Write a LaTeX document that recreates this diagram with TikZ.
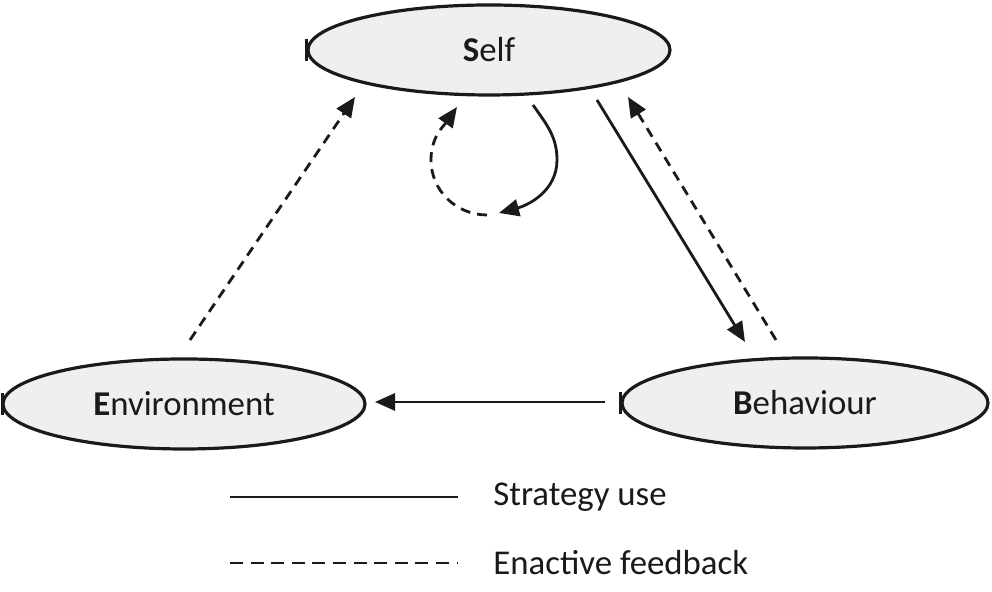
\documentclass[tikz,border=0pt]{standalone}
\usepackage{fontspec}
\setmainfont{Carlito}
\usetikzlibrary{arrows.meta,shapes.geometric}
\definecolor{ellfill}{HTML}{EFEFEF}
\definecolor{ink}{HTML}{1A1A1A}
\tikzset{
  ell/.style={ellipse, draw=ink, fill=ellfill, line width=1.6pt, inner sep=0pt,
              font=\fontsize{17.4}{20}\selectfont, text=ink},
  tick/.style={draw=ink, line width=1.3pt},
  conn/.style={draw=ink, line width=1.4pt, -{Triangle[length=10pt,width=8.5pt]}},
  fb/.style={conn, dash pattern=on 5pt off 3.5pt},
  legtxt/.style={anchor=west, inner sep=0pt, font=\fontsize{17.4}{20}\selectfont, text=ink},
  legsolid/.style={draw=ink, line width=1.4pt},
  legdash/.style={draw=ink, line width=1.4pt, dash pattern=on 6.5pt off 3.8pt}
}
\begin{document}
\begin{tikzpicture}[x=0.5pt,y=0.5pt]
\useasboundingbox (0,0) rectangle (992,592);
% ellipses
\node[ell, minimum width=181pt, minimum height=45pt] (self) at (489,542) {\textbf{S}elf};
\node[ell, minimum width=181pt, minimum height=45pt] (env) at (184,188) {\textbf{E}nvironment};
\node[ell, minimum width=183pt, minimum height=45pt] (beh) at (805,189) {\textbf{B}ehaviour};
% small ticks at left edges
\draw[tick] ([yshift=-5.5pt]self.west) -- ([yshift=5.5pt]self.west);
\draw[tick] ([yshift=-5.5pt,xshift=0.5pt]env.west) -- ([yshift=5.5pt,xshift=0.5pt]env.west);
\draw[tick] ([yshift=-5.5pt]beh.west) -- ([yshift=5.5pt]beh.west);
% connector end points
\coordinate (be1) at (605,190);
\coordinate (be2) at (375,190);
\coordinate (es1) at (190,252);
\coordinate (es2) at (355,495);
\coordinate (sb1) at (597,492);
\coordinate (sb2) at (745,250);
\coordinate (bs1) at (776,252);
\coordinate (bs2) at (628,495);
% self loop points
\coordinate (ls1) at (533,487);
\coordinate (ls2) at (557,432);
\coordinate (ls3) at (499,379);
\coordinate (ld1) at (487,377);
\coordinate (ld2) at (431,432);
\coordinate (ld3) at (457,485);
% connectors
\draw[conn] (be1) -- (be2);
\draw[fb] (es1) -- (es2);
\draw[conn] (sb1) -- (sb2);
\draw[fb] (bs1) -- (bs2);
% self loop
\draw[conn] (ls1) to[out=-55,in=90] (ls2) to[out=-90,in=15] (ls3);
\draw[fb] (ld1) to[out=180,in=-90] (ld2) to[out=90,in=-125] (ld3);
% legend
\coordinate (l1a) at (230,95);
\coordinate (l1b) at (458,95);
\coordinate (l2a) at (230,29);
\coordinate (l2b) at (458,29);
\draw[legsolid] (l1a) -- (l1b);
\draw[legdash] (l2a) -- (l2b);
\node[legtxt] (t1) at (493,95) {Strategy use};
\node[legtxt] (t2) at (493,29) {Enactive feedback};
\end{tikzpicture}
\end{document}
